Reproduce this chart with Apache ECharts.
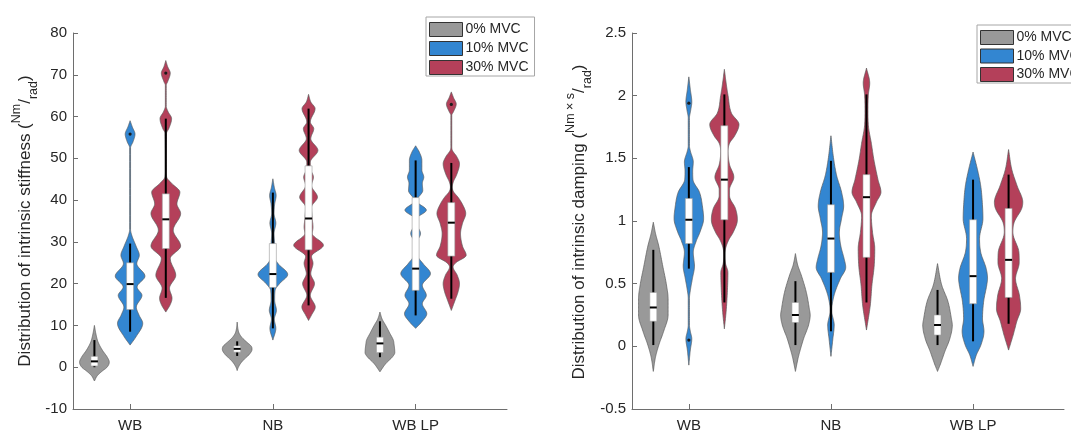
<!DOCTYPE html>
<html>
<head>
<meta charset="utf-8">
<title>Intrinsic stiffness and damping</title>
<script src="https://cdn.jsdelivr.net/npm/echarts@6/dist/echarts.min.js"></script>
<style>
  html, body { margin: 0; padding: 0; background: #fff; }
  #chart { width: 1071px; height: 433px; }
</style>
</head>
<body>
<div id="chart"></div>
<script>
// ---- categories and conditions ----
const categories = ['WB', 'NB', 'WB LP'];
const conditions = ['0% MVC', '10% MVC', '30% MVC'];

// ---- density profiles: [value, relative density] (bottom to top) ----
// stiffness (Nm/rad)
const stiffWB0 = [[-3.3,0],[-2,0.2],[-1,0.5],[0,0.85],[1.2,1],[2.5,0.85],[4,0.55],[6,0.25],[8,0.1],[10,0]];
const stiffNB0 = [[-0.8,0],[0,0.08],[1,0.25],[2,0.5],[3,0.8],[4.3,1],[5,0.95],[6,0.65],[7,0.35],[8,0.15],[9,0.06],[10.8,0]];
const stiffLP0 = [[-1.1,0],[0.9,0.4],[2.5,0.85],[3.5,1],[5.5,0.95],[6.5,0.9],[8.1,0.67],[10,0.39],[11.5,0.15],[13.2,0]];

const stiffWB10 = [[5.3,0],[7.3,0.4],[10.5,0.85],[12.5,0.6],[14.4,0.42],[17.2,0.8],[19.2,0.47],[21.8,1],[24.8,0.45],[26.8,0.62],[29,0.4],[31.5,0.12],[33,0.03],[52.5,0.03],[54,0.2],[55.8,0.33],[57.5,0.15],[59,0]];
const stiffNB10 = [[6.5,0],[9.3,0.2],[11.5,0.1],[13.6,0.24],[16,0.12],[18.4,0.15],[20,0.45],[22.2,1],[24.8,0.35],[26.5,0.1],[29.2,0.12],[32,0.08],[34.5,0.2],[36.8,0.08],[39,0.12],[41.1,0.22],[43,0.1],[45.1,0]];
const stiffLP10 = [[9.3,0],[10.8,0.4],[12.8,0.75],[15.2,0.45],[17.2,0.72],[19.6,0.45],[22.4,1],[24.8,0.5],[26.5,0.15],[29.6,0.05],[32,0.33],[34.5,0.05],[35.5,0.05],[37.6,0.72],[39.8,0.08],[40.3,0.12],[42.3,0.48],[44,0.45],[45.5,0.55],[47.2,0.42],[49.5,0.42],[51.5,0.25],[53,0]];

const stiffWB30 = [[13.2,0],[15,0.3],[16.5,0.42],[18.9,0.25],[22,0.67],[26,0.3],[29,1],[32.8,0.5],[36.8,1],[39.1,0.75],[41.9,0.95],[44,0.4],[45.5,0.06],[47,0.03],[56,0.05],[57.1,0.2],[59.5,0.39],[61.2,0.15],[62.5,0.03],[67.5,0.03],[68.3,0.12],[70.4,0.3],[72,0.12],[73.4,0]];
const stiffNB30 = [[11.2,0],[12.5,0.2],[14.4,0.45],[17.2,0.12],[20,0.4],[22.4,0.15],[24.9,0.3],[26.5,0.2],[29.2,1],[32,0.25],[33.5,0.3],[35.5,0.25],[38.3,0.2],[40.7,0.6],[43.5,0.2],[45.5,0.33],[47.3,0.15],[49.1,0.12],[51.9,0.63],[54.7,0.15],[57.1,0.35],[58.7,0.12],[61.9,0.44],[63.5,0.15],[65.3,0]];
const stiffLP30 = [[13.6,0],[16,0.25],[18,0.45],[20,0.55],[22,0.4],[24,0.12],[25,0.3],[26.8,1],[29,0.75],[32,0.62],[34.4,0.75],[36.8,0.97],[39,0.75],[40.7,0.45],[42,0.15],[43.1,0.06],[44.5,0.15],[46,0.35],[48.7,0.55],[50.5,0.35],[52,0.06],[53,0.03],[60.3,0.03],[61.2,0.15],[63,0.33],[64.5,0.15],[65.9,0]];

// damping (Nm x s/rad)
const dampWB0 = [[-0.2,0],[-0.09,0.14],[0.01,0.37],[0.12,0.7],[0.25,1],[0.38,1],[0.49,0.89],[0.64,0.64],[0.8,0.37],[0.9,0.15],[0.99,0]];
const dampNB0 = [[-0.2,0],[-0.1,0.17],[-0.04,0.3],[0.06,0.55],[0.17,0.89],[0.25,1],[0.3,0.94],[0.43,0.74],[0.57,0.39],[0.65,0.15],[0.74,0]];
const dampLP0 = [[-0.2,0],[-0.15,0.17],[-0.04,0.5],[0.06,0.83],[0.17,1],[0.22,0.94],[0.36,0.7],[0.49,0.28],[0.66,0]];

const dampWB10 = [[-0.15,0],[-0.03,0.1],[0.06,0.2],[0.12,0.1],[0.17,0.04],[0.38,0.04],[0.46,0.12],[0.54,0.24],[0.64,0.38],[0.75,0.3],[0.84,0.5],[0.91,0.75],[1.02,1],[1.1,0.94],[1.23,0.72],[1.33,0.28],[1.4,0.26],[1.47,0.3],[1.56,0.1],[1.6,0.04],[1.82,0.04],[1.88,0.12],[1.95,0.2],[2.05,0.1],[2.15,0]];
const dampNB10 = [[-0.08,0],[0.05,0.12],[0.17,0.22],[0.28,0.06],[0.33,0.08],[0.43,0.27],[0.54,0.64],[0.63,1],[0.7,0.89],[0.8,0.67],[0.91,0.57],[1.02,0.72],[1.12,0.86],[1.23,0.72],[1.36,0.39],[1.49,0.19],[1.68,0]];
const dampLP10 = [[-0.16,0],[-0.07,0.22],[0.01,0.53],[0.12,0.74],[0.22,0.64],[0.36,0.72],[0.49,0.93],[0.54,0.98],[0.62,0.89],[0.75,0.52],[0.86,0.44],[1.02,0.67],[1.12,0.64],[1.28,0.52],[1.41,0.3],[1.55,0]];

const dampWB30 = [[0.14,0],[0.28,0.12],[0.43,0.2],[0.59,0.24],[0.66,0.08],[0.72,0.04],[0.78,0.08],[0.85,0.3],[0.91,0.6],[1.01,0.88],[1.1,0.75],[1.2,0.35],[1.25,0.35],[1.35,0.64],[1.45,0.35],[1.55,0.25],[1.62,0.35],[1.68,0.7],[1.77,0.99],[1.86,0.48],[2.0,0.25],[2.1,0.12],[2.21,0]];
const dampNB30 = [[0.13,0],[0.33,0.26],[0.49,0.37],[0.64,0.52],[0.78,0.56],[0.91,0.41],[1.04,0.33],[1.15,0.67],[1.23,0.98],[1.33,0.78],[1.49,0.5],[1.62,0.33],[1.76,0.13],[1.89,0.1],[2.01,0.13],[2.1,0.22],[2.22,0]];
const dampLP30 = [[-0.03,0],[0.09,0.31],[0.2,0.56],[0.3,0.82],[0.41,0.73],[0.54,0.47],[0.67,0.72],[0.75,0.7],[0.91,0.29],[0.99,0.38],[1.1,0.89],[1.15,0.96],[1.28,0.58],[1.41,0.22],[1.57,0]];

// ---- box statistics per category: [whisker low, Q1, median, Q3, whisker high] ----
const stiffBox0  = [[0, 0.3, 1.4, 2.6, 6.5], [2.7, 3.6, 4.4, 5.1, 6.2], [2.4, 3.5, 5.7, 7.2, 11]];
const stiffBox10 = [[8.5, 13.8, 19.9, 25.0, 29.6], [9.3, 19.1, 22.3, 29.6, 41.8], [12.4, 18.4, 23.6, 40.6, 49.5]];
const stiffBox30 = [[16.6, 28.4, 35.4, 41.5, 59.5], [14.8, 28.1, 35.6, 48.2, 61.9], [16.4, 26.6, 34.6, 39.4, 48.9]];
const dampBox0   = [[0.01, 0.2, 0.31, 0.43, 0.77], [0.01, 0.19, 0.25, 0.35, 0.52], [0.01, 0.09, 0.17, 0.25, 0.45]];
const dampBox10  = [[0.62, 0.82, 1.01, 1.18, 1.43], [0.12, 0.59, 0.86, 1.13, 1.48], [0.04, 0.34, 0.56, 1.01, 1.33]];
const dampBox30  = [[0.35, 1.01, 1.33, 1.76, 2.01], [0.35, 0.71, 1.19, 1.37, 2.01], [0.18, 0.39, 0.69, 1.1, 1.37]];

// ---- outliers per category ----
const stiffOut0  = [[], [], []];
const stiffOut10 = [[55.8], [], []];
const stiffOut30 = [[70.4], [], [62.9]];
const dampOut0   = [[], [], []];
const dampOut10  = [[0.05, 1.94], [], []];
const dampOut30  = [[], [], []];

// ---- styling ----
const FONT = 'Liberation Sans, Arial, Helvetica, sans-serif';
const TEXT = '#262626';
const AXIS = '#6e6e6e';
const COLORS = ['#999999', '#3386d1', '#b4405a'];
const OFFSETS = [-0.25, 0, 0.25];   // position of each condition inside a category group
const HALF_WIDTH = 0.104;           // widest half-width of a violin, in x units
const BOX_HALF = 3.5;               // px

// Shape-preserving cubic through the profile knots (no overshoot below zero)
function densityCurve(pts, steps) {
  const m = pts.length;
  if (m < 3) return pts.slice();
  const xs = pts.map(p => p[0]), ys = pts.map(p => p[1]);
  const dx = [], sl = [];
  for (let i = 0; i < m - 1; i++) { dx[i] = xs[i + 1] - xs[i]; sl[i] = (ys[i + 1] - ys[i]) / dx[i]; }
  const t = new Array(m);
  t[0] = sl[0]; t[m - 1] = sl[m - 2];
  for (let i = 1; i < m - 1; i++) t[i] = sl[i - 1] * sl[i] <= 0 ? 0 : (sl[i - 1] + sl[i]) / 2;
  for (let i = 0; i < m - 1; i++) {
    if (sl[i] === 0) { t[i] = 0; t[i + 1] = 0; continue; }
    const a = t[i] / sl[i], b = t[i + 1] / sl[i], h = a * a + b * b;
    if (h > 9) { const s = 3 / Math.sqrt(h); t[i] = s * a * sl[i]; t[i + 1] = s * b * sl[i]; }
  }
  const out = [];
  for (let i = 0; i < m - 1; i++) {
    for (let j = 0; j < steps; j++) {
      const u = j / steps, u2 = u * u, u3 = u2 * u;
      const y = (2 * u3 - 3 * u2 + 1) * ys[i] + (u3 - 2 * u2 + u) * dx[i] * t[i]
              + (-2 * u3 + 3 * u2) * ys[i + 1] + (u3 - u2) * dx[i] * t[i + 1];
      out.push([xs[i] + u * dx[i], Math.max(0, y)]);
    }
  }
  out.push(pts[m - 1]);
  return out;
}

function violinSeries(ci, gridIndex, profiles, boxes, outliers) {
  return {
    type: 'custom',
    name: conditions[ci],
    xAxisIndex: gridIndex,
    yAxisIndex: gridIndex,
    clip: false,
    itemStyle: { color: COLORS[ci] },
    data: categories.map((c, k) => [k + 1 + OFFSETS[ci], boxes[k][2], k]),
    encode: { x: 0, y: 1 },
    renderItem(params, api) {
      const x = api.value(0);
      const k = api.value(2);
      const curve = densityCurve(profiles[k], 12);
      const pts = [];
      for (let i = 0; i < curve.length; i++) pts.push(api.coord([x + curve[i][1] * HALF_WIDTH, curve[i][0]]));
      for (let i = curve.length - 2; i > 0; i--) pts.push(api.coord([x - curve[i][1] * HALF_WIDTH, curve[i][0]]));
      const [lo, q1, med, q3, hi] = boxes[k];
      const cLo = api.coord([x, lo]), cHi = api.coord([x, hi]);
      const cQ1 = api.coord([x, q1]), cQ3 = api.coord([x, q3]), cMed = api.coord([x, med]);
      const children = [
        { type: 'polygon', shape: { points: pts },
          style: { fill: COLORS[ci], stroke: '#5a5a5a', lineWidth: 0.7 } },
        { type: 'line', shape: { x1: cLo[0], y1: cLo[1], x2: cHi[0], y2: cHi[1] },
          style: { stroke: '#000', lineWidth: 2 } },
        { type: 'rect', shape: { x: cQ3[0] - BOX_HALF, y: cQ3[1], width: BOX_HALF * 2, height: cQ1[1] - cQ3[1] },
          style: { fill: '#fff', stroke: '#9a9a9a', lineWidth: 0.6 } },
        { type: 'line', shape: { x1: cMed[0] - BOX_HALF, y1: cMed[1], x2: cMed[0] + BOX_HALF, y2: cMed[1] },
          style: { stroke: '#000', lineWidth: 2 } }
      ];
      outliers[k].forEach(v => {
        const c = api.coord([x, v]);
        children.push({ type: 'circle', shape: { cx: c[0], cy: c[1], r: 1.6 }, style: { fill: '#1a1a1a' } });
      });
      return { type: 'group', children };
    }
  };
}

function xAxisFor(gridIndex) {
  return {
    gridIndex, type: 'value', min: 0.6, max: 3.64,
    axisLine: { show: true, onZero: false, lineStyle: { color: AXIS, width: 1 } },
    axisTick: { show: true, inside: true, length: 5, customValues: [1, 2, 3], lineStyle: { color: AXIS } },
    axisLabel: { customValues: [1, 2, 3], formatter: v => categories[Math.round(v) - 1],
                 color: TEXT, fontSize: 15, fontFamily: FONT, margin: 9 },
    splitLine: { show: false }
  };
}

function yAxisFor(gridIndex, min, max, interval) {
  return {
    gridIndex, type: 'value', min, max, interval,
    axisLine: { show: true, lineStyle: { color: AXIS, width: 1 } },
    axisTick: { show: true, inside: true, length: 5, lineStyle: { color: AXIS } },
    axisLabel: { color: TEXT, fontSize: 15, fontFamily: FONT, margin: 6 },
    splitLine: { show: false }
  };
}

function legendAt(left, top, gap) {
  return {
    orient: 'vertical', left, top,
    data: conditions, icon: 'rect',
    itemWidth: 33, itemHeight: 14, itemGap: gap,
    padding: [5, 6, 1, 3],
    backgroundColor: '#fff', borderColor: '#a6a6a6', borderWidth: 1, borderRadius: 0,
    itemStyle: { borderColor: '#333', borderWidth: 1 },
    textStyle: { color: TEXT, fontSize: 14, lineHeight: 14, fontFamily: FONT, padding: [0, 0, 0, -2] },
    selectedMode: false
  };
}

const titleRich = {
  m:   { fontSize: 17, fontFamily: FONT, color: TEXT, lineHeight: 30, verticalAlign: 'middle' },
  sup: { fontSize: 12.5, fontFamily: FONT, color: TEXT, lineHeight: 22, verticalAlign: 'top' },
  sub: { fontSize: 12.5, fontFamily: FONT, color: TEXT, lineHeight: 18, verticalAlign: 'bottom' }
};

function axisTitle(x, y, text) {
  return {
    type: 'text', x, y, rotation: Math.PI / 2,
    style: { text, rich: titleRich, align: 'center', verticalAlign: 'middle', fill: TEXT }
  };
}

const chart = echarts.init(document.getElementById('chart'), null, { renderer: 'canvas' });
chart.setOption({
  animation: false,
  backgroundColor: '#fff',
  grid: [
    { left: 73, top: 33, width: 434, height: 376 },
    { left: 632, top: 33, width: 432, height: 376 }
  ],
  xAxis: [xAxisFor(0), xAxisFor(1)],
  yAxis: [yAxisFor(0, -10, 80, 10), yAxisFor(1, -0.5, 2.5, 0.5)],
  legend: [legendAt(426, 17, 4), legendAt(977, 25, 3.5)],
  graphic: [
    axisTitle(25, 221, '{m|Distribution of intrinsic stiffness (}{sup|Nm}{m|/}{sub|rad}{m|)}'),
    axisTitle(579, 222, '{m|Distribution of intrinsic damping (}{sup|Nm × s}{m|/}{sub|rad}{m|)}')
  ],
  series: [
    violinSeries(0, 0, [stiffWB0, stiffNB0, stiffLP0], stiffBox0, stiffOut0),
    violinSeries(1, 0, [stiffWB10, stiffNB10, stiffLP10], stiffBox10, stiffOut10),
    violinSeries(2, 0, [stiffWB30, stiffNB30, stiffLP30], stiffBox30, stiffOut30),
    violinSeries(0, 1, [dampWB0, dampNB0, dampLP0], dampBox0, dampOut0),
    violinSeries(1, 1, [dampWB10, dampNB10, dampLP10], dampBox10, dampOut10),
    violinSeries(2, 1, [dampWB30, dampNB30, dampLP30], dampBox30, dampOut30)
  ]
});
</script>
</body>
</html>
